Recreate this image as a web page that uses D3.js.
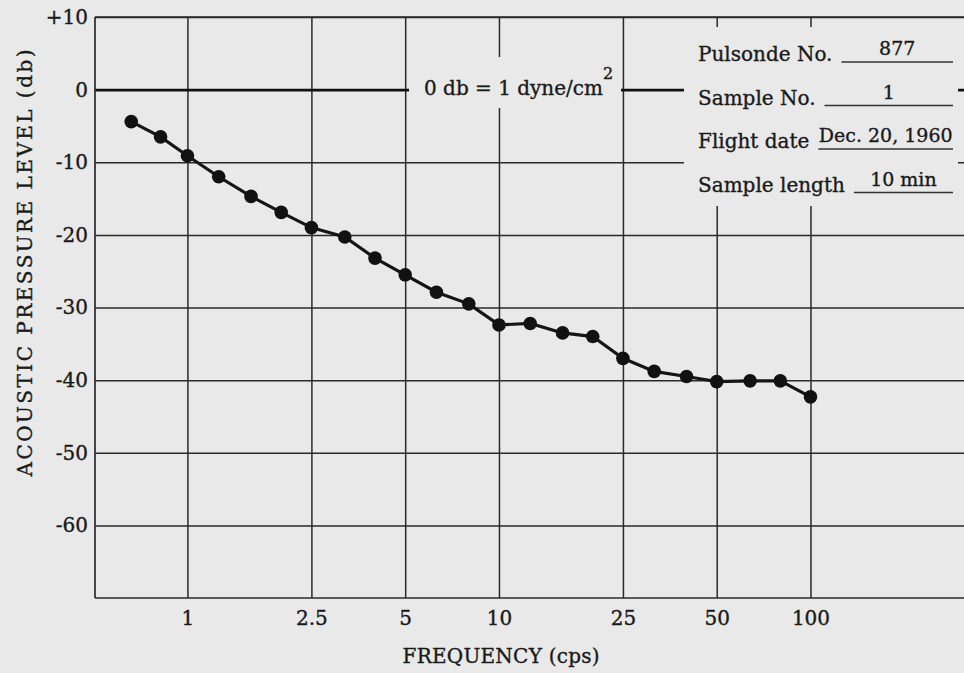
<!doctype html>
<head>
    <meta charset="utf-8">
    <title>Acoustic pressure level spectrum</title>
    <script src="https://d3js.org/d3.v7.min.js"></script>
    <style>
        body {margin:0; background:#e9e9e9;}
        svg {display:block; background:#e9e9e9;}
        text {font-family:"DejaVu Serif", serif; fill:#1a1a1a; stroke:#1a1a1a; stroke-width:0.35px;}
        .axis path {display:none;}
        .axis line {stroke:#2a2a2a; stroke-width:1.5;}
        .axis text {font-size:20px; font-family:"DejaVu Serif", serif; fill:#1a1a1a;}
    </style>
</head>
<body>
    <script>
        "use strict";
        // readings from the plot (frequency in cps, level in db)
        var freq = [0.66, 0.82, 1, 1.26, 1.6, 2, 2.5, 3.2, 4, 5, 6.3, 8, 10, 12.6, 16, 20, 25, 31.5, 40, 50, 64, 80, 100];
        var level = [-4.4, -6.5, -9.1, -12.0, -14.7, -16.9, -19.0, -20.3, -23.2, -25.5, -27.9, -29.5, -32.4, -32.2, -33.5, -34.0, -37.0, -38.8, -39.5, -40.2, -40.1, -40.1, -42.3];
        var xTicks = [1, 2.5, 5, 10, 25, 50, 100];
        var yTicks = [10, 0, -10, -20, -30, -40, -50, -60];
        var infoLabels = ["Pulsonde No.", "Sample No.", "Flight date", "Sample length"];
        var infoValues = ["877", "1", "Dec. 20, 1960", "10 min"];

        var width = 964, height = 673;
        var pLeft = 95, pRight = 964, pTop = 17, pBottom = 598;
        var bg = "#e9e9e9";

        var svg = d3.select("body").append("svg")
            .attr("width", width).attr("height", height);

        var x = d3.scaleLog().domain([0.505, 311]).range([pLeft, pRight]);
        var y = d3.scaleLinear().domain([-70, 10]).range([pBottom, pTop]);

        // vertical grid + x labels
        svg.append("g").attr("class", "axis")
            .attr("transform", "translate(0," + pBottom + ")")
            .call(d3.axisBottom(x).tickValues(xTicks)
                .tickFormat(function(d) { return String(d); })
                .tickSize(-(pBottom - pTop)).tickPadding(13));

        // horizontal grid + y labels
        svg.append("g").attr("class", "axis")
            .attr("transform", "translate(" + pLeft + ",0)")
            .call(d3.axisLeft(y).tickValues(yTicks)
                .tickFormat(function(d) { return d > 0 ? "+" + d : String(d); })
                .tickSize(-(pRight - pLeft)).tickPadding(7))
            .selectAll(".tick line")
            .style("stroke-width", function(d) { return d === 0 ? 2.6 : 1.5; })
            .style("stroke", function(d) { return d === 0 ? "#111" : null; });

        // frame (open on the right)
        var frame = svg.append("g").attr("stroke", "#2a2a2a").attr("stroke-width", 1.7);
        frame.append("line").attr("x1", pLeft).attr("x2", pLeft).attr("y1", pTop).attr("y2", pBottom);
        frame.append("line").attr("x1", pLeft).attr("x2", pRight).attr("y1", pTop).attr("y2", pTop);
        frame.append("line").attr("x1", pLeft).attr("x2", pRight).attr("y1", pBottom).attr("y2", pBottom);

        // reference note on the 0 db line
        svg.append("rect").attr("x", 409).attr("y", 57).attr("width", 212).attr("height", 51).attr("fill", bg);
        var note = svg.append("text").attr("x", 424).attr("y", 95).style("font-size", "20px");
        note.append("tspan").text("0 db = 1 dyne/cm");
        note.append("tspan").attr("dy", -16).style("font-size", "16px").text("2");

        // info box
        svg.append("rect").attr("x", 684).attr("y", 27).attr("width", 274).attr("height", 179).attr("fill", bg);
        var rows = svg.append("g").selectAll("g").data(infoLabels).enter().append("g")
            .attr("transform", function(d, i) { return "translate(698," + (61 + i * 43.5) + ")"; });
        rows.append("text").style("font-size", "20px").text(function(d) { return d; });
        rows.each(function(d, i) {
            var row = d3.select(this);
            var x0 = row.select("text").node().getComputedTextLength() + 9;
            var x1 = 953 - 698;
            row.append("line").attr("x1", x0).attr("x2", x1).attr("y1", 1).attr("y2", 1)
                .attr("stroke", "#333").attr("stroke-width", 1.3);
            row.append("text").attr("x", (x0 + x1) / 2).attr("y", -6)
                .attr("text-anchor", "middle").style("font-size", "19px").text(infoValues[i]);
        });

        // data
        var pts = freq.map(function(f, i) { return [f, level[i]]; });
        svg.append("path").datum(pts)
            .attr("fill", "none").attr("stroke", "#151515").attr("stroke-width", 3.2)
            .attr("d", d3.line().x(function(d) { return x(d[0]); }).y(function(d) { return y(d[1]); }));
        svg.append("g").selectAll("circle").data(pts).enter().append("circle")
            .attr("cx", function(d) { return x(d[0]); })
            .attr("cy", function(d) { return y(d[1]); })
            .attr("r", 6.8).attr("fill", "#111");

        // axis titles
        svg.append("text").attr("x", 501).attr("y", 663).attr("text-anchor", "middle")
            .attr("textLength", 197).attr("lengthAdjust", "spacing")
            .style("font-size", "20px").text("FREQUENCY (cps)");
        svg.append("text").attr("transform", "translate(32,263) rotate(-90)")
            .attr("text-anchor", "middle").attr("textLength", 427).attr("lengthAdjust", "spacing")
            .style("font-size", "20px").text("ACOUSTIC PRESSURE LEVEL (db)");
    </script>
</body>
</html>
